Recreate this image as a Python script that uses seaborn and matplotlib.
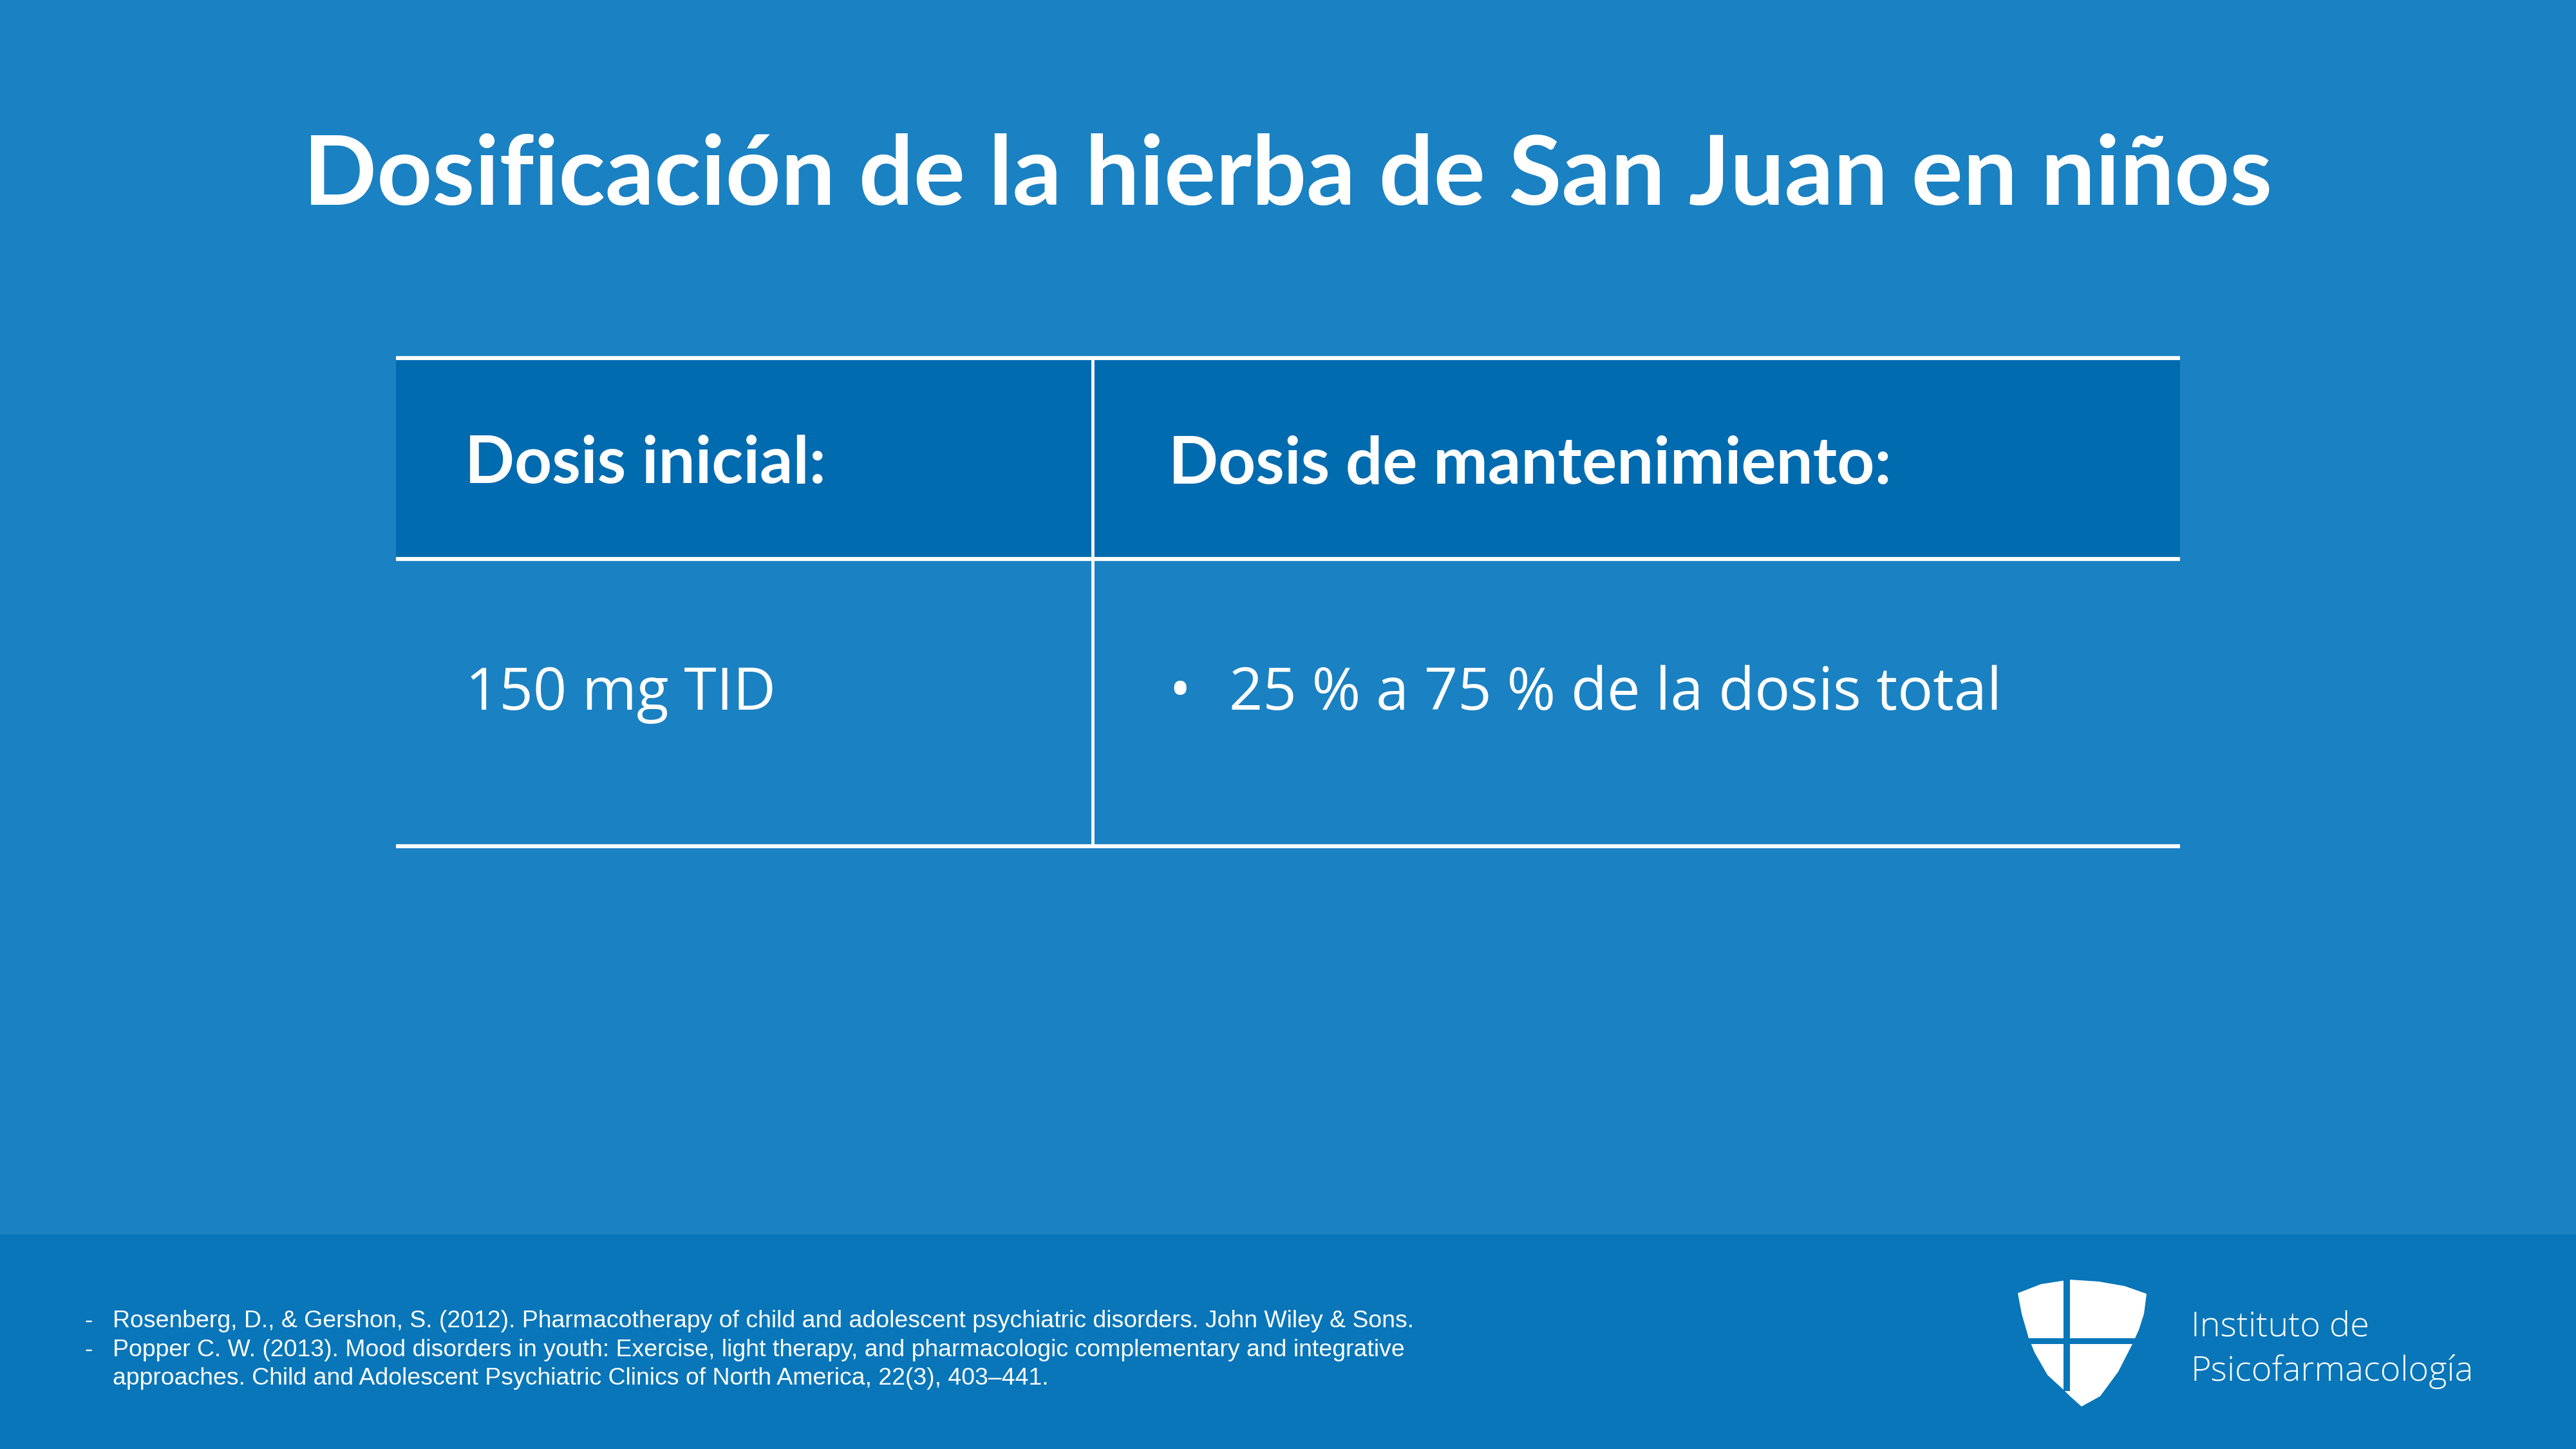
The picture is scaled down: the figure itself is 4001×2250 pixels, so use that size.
import matplotlib
matplotlib.use("Agg")
import matplotlib.pyplot as plt
import seaborn as sns
from matplotlib.patches import Polygon, Rectangle

# Textos de la diapositiva
titulo = "Dosificación de la hierba de San Juan en niños"
encabezados = ["Dosis inicial:", "Dosis de mantenimiento:"]
valores = ["150 mg TID", "25 % a 75 % de la dosis total"]
viñeta = [False, True]
referencias = [
    ("-", "Rosenberg, D., & Gershon, S. (2012). Pharmacotherapy of child and adolescent psychiatric disorders. John Wiley & Sons."),
    ("-", "Popper C. W. (2013). Mood disorders in youth: Exercise, light therapy, and pharmacologic complementary and integrative"),
    ("", "approaches. Child and Adolescent Psychiatric Clinics of North America, 22(3), 403\u2013441."),
]
logo_lineas = ["Instituto de", "Psicofarmacología"]

# Colores
c_fondo = "#1a81c2"
c_cabecera = "#016bb0"
c_pie = "#0876b9"
blanco = "white"

sns.set_style("white")
plt.rcParams["font.family"] = ["Lato", "DejaVu Sans"]

W, H = 4001, 2250
fig = plt.figure(figsize=(W / 100, H / 100), dpi=100)
fig.patch.set_facecolor(c_fondo)
ax = fig.add_axes([0, 0, 1, 1])
ax.set_xlim(0, W)
ax.set_ylim(H, 0)
ax.axis("off")

# Título
ax.text(W / 2, 318, titulo, ha="center", va="baseline", color=blanco,
        fontsize=108, fontweight="bold", family=["Lato", "DejaVu Sans"])

# Tabla
x0, x1, xm = 615, 3386, 1697
y_top, y_mid, y_bot = 556, 868, 1314
ax.add_patch(Rectangle((x0, y_top), x1 - x0, y_mid - y_top, color=c_cabecera, lw=0))
for y in (y_top, y_mid, y_bot):
    ax.plot([x0, x1], [y, y], color=blanco, lw=4.5, solid_capstyle="butt")
ax.plot([xm, xm], [y_top, y_bot], color=blanco, lw=3.5, solid_capstyle="butt")

col_x = [722, 1815]
for i, (enc, val) in enumerate(zip(encabezados, valores)):
    ax.text(col_x[i], 750, enc, ha="left", va="baseline", color=blanco,
            fontsize=73, fontweight="bold", family=["Lato", "DejaVu Sans"])
    if viñeta[i]:
        ax.text(col_x[i], 1102, "\u2022", ha="left", va="baseline", color=blanco,
                fontsize=66, family=["Open Sans", "DejaVu Sans"])
        ax.text(col_x[i] + 94, 1102, val, ha="left", va="baseline", color=blanco,
                fontsize=66, family=["Open Sans", "DejaVu Sans"])
    else:
        ax.text(col_x[i] + 1, 1102, val, ha="left", va="baseline", color=blanco,
                fontsize=66, family=["Open Sans", "DejaVu Sans"])

# Pie
ax.add_patch(Rectangle((0, 1917), W, H - 1917, color=c_pie, lw=0))
ref_y = [2061, 2106, 2150]
for (guion, txt), y in zip(referencias, ref_y):
    if guion:
        ax.text(131, y, guion, ha="left", va="baseline", color=blanco,
                fontsize=26.9, family=["Liberation Sans", "DejaVu Sans"])
    ax.text(175, y, txt, ha="left", va="baseline", color=blanco,
            fontsize=26.9, family=["Liberation Sans", "DejaVu Sans"])

# Logo (escudo)
escudo = [(3134, 2008), (3170, 1994), (3215, 1987), (3260, 1990), (3300, 1997),
          (3334, 2009), (3330, 2040), (3322, 2065), (3312, 2087), (3290, 2130),
          (3262, 2168), (3233, 2184), (3215, 2168), (3205, 2158), (3180, 2135),
          (3160, 2100), (3151, 2078), (3140, 2040)]
ax.add_patch(Polygon(escudo, closed=True, color=blanco, lw=0))
ax.add_patch(Rectangle((3205, 1980), 10, 180, color=c_pie, lw=0))
ax.add_patch(Rectangle((3130, 2078), 210, 9, color=c_pie, lw=0))

for txt, y in zip(logo_lineas, [2076, 2144]):
    ax.text(3403, y, txt, ha="left", va="baseline", color=blanco,
            fontsize=39, fontweight="light", family=["Open Sans", "DejaVu Sans"])

fig.savefig("out.png", dpi=100, facecolor=c_fondo)
